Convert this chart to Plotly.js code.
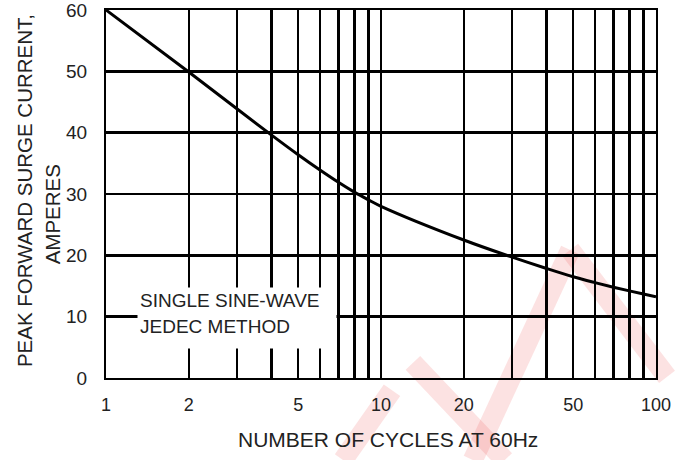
<!DOCTYPE html>
<html>
<head>
<meta charset="utf-8">
<script src="https://cdn.plot.ly/plotly-3.0.1.min.js"></script>
<style>
html,body{margin:0;padding:0;background:#fff;}
#chart{width:689px;height:460px;}
</style>
</head>
<body>
<div id="chart"></div>
<script>
// Data
const cycles = [1, 2, 3, 4, 5, 6, 7, 8, 9, 10, 20, 30, 40, 50, 60, 70, 80, 90, 100];
const surgeCurrent = [60, 49.9, 43.85, 39.6, 36.4, 33.9, 31.9, 30.3, 29.05, 28.0, 22.5, 19.7, 17.85, 16.5, 15.55, 14.8, 14.2, 13.7, 13.25];
const xGridVals = [1,2,3,4,5,6,7,8,9,10,20,30,40,50,60,70,80,90,100];
const xTickText = ['1','2','','','5','','','','','10','20','','','50','','','','','100'];
const yTickVals = [0,10,20,30,40,50,60];
const yTitleLines = ['PEAK FORWARD SURGE CURRENT,', 'AMPERES'];
const xTitle = 'NUMBER OF CYCLES AT 60Hz';
const noteLines = ['SINGLE SINE-WAVE', 'JEDEC METHOD'];

const FONT = 'Liberation Sans, Arial, sans-serif';
const TXT = '#222';

const trace = {
  x: cycles, y: surgeCurrent, type: 'scatter', mode: 'lines',
  line: {color: '#000', width: 3, shape: 'spline', smoothing: 1},
  hoverinfo: 'skip', showlegend: false
};

const wm = 'rgba(235,60,60,0.15)';
function wl(x0,y0,x1,y1){return {type:'line',xref:'paper',yref:'paper',x0:x0,y0:y0,x1:x1,y1:y1,layer:'below',line:{color:wm,width:20}};}

const layout = {
  width: 689, height: 460,
  margin: {l: 106, r: 33, t: 10, b: 82},
  paper_bgcolor: '#fff', plot_bgcolor: 'rgba(0,0,0,0)',
  font: {family: FONT, color: TXT, size: 18},
  xaxis: {
    type: 'log', range: [0, 2],
    tickmode: 'array', tickvals: xGridVals, ticktext: xTickText,
    showgrid: true, gridcolor: '#000', gridwidth: 2.4,
    showline: true, linecolor: '#000', linewidth: 2, mirror: true,
    ticks: '', ticklabelstandoff: 9, ticklabeloverflow: 'allow',
    tickfont: {family: FONT, size: 18, color: TXT},
    zeroline: false, fixedrange: true
  },
  yaxis: {
    range: [0, 60], tickmode: 'array', tickvals: yTickVals,
    showgrid: true, gridcolor: '#000', gridwidth: 2.4,
    showline: true, linecolor: '#000', linewidth: 2, mirror: true,
    ticks: '', ticklabelstandoff: 13, ticklabeloverflow: 'allow',
    tickfont: {family: FONT, size: 19, color: TXT},
    zeroline: false, fixedrange: true
  },
  shapes: [
    wl(0.431,-0.223,0.52,-0.033),
    wl(0.558,0.041,0.725,-0.223),
    wl(0.667,-0.223,0.844,0.348),
    wl(0.844,0.348,1.02,0.003)
  ],
  annotations: [
    {xref:'paper', yref:'paper', x:0.0564, y:0.2473, xanchor:'left', yanchor:'top',
     text:' ', showarrow:false, bgcolor:'#fff', width:198, height:60, borderpad:0},
    {xref:'paper', yref:'paper', x:0.058, y:0.210, xanchor:'left', yanchor:'middle',
     text: noteLines[0], showarrow:false, font:{family:FONT, size:19, color:TXT}},
    {xref:'paper', yref:'paper', x:0.058, y:0.1394, xanchor:'left', yanchor:'middle',
     text: noteLines[1], showarrow:false, font:{family:FONT, size:19, color:TXT}},
    {xref:'paper', yref:'paper', x:-0.149, y:0.508, xanchor:'center', yanchor:'middle',
     text: yTitleLines[0], textangle:-90, showarrow:false, font:{family:FONT, size:20.5, color:TXT}},
    {xref:'paper', yref:'paper', x:-0.098, y:0.445, xanchor:'center', yanchor:'middle',
     text: yTitleLines[1], textangle:-90, showarrow:false, font:{family:FONT, size:20.5, color:TXT}},
    {xref:'paper', yref:'paper', x:0.513, y:-0.168, xanchor:'center', yanchor:'middle',
     text: xTitle, showarrow:false, font:{family:FONT, size:21, color:TXT}}
  ]
};

Plotly.newPlot('chart', [trace], layout, {staticPlot: true, displayModeBar: false});
</script>
</body>
</html>
